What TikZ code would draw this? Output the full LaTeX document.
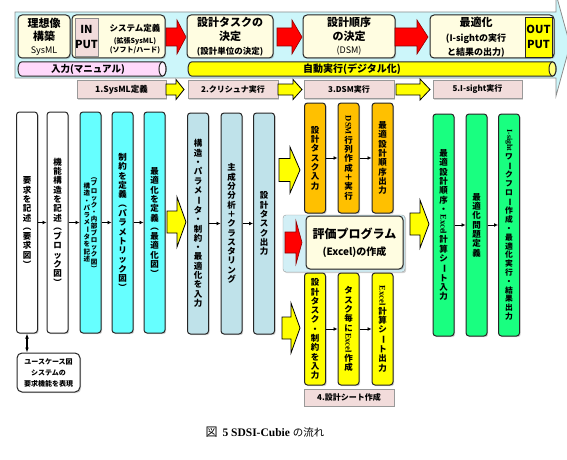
\documentclass[tikz,border=0pt]{standalone}
\usepackage{fontspec}
\setmainfont{Noto Sans CJK JP}
\newfontfamily\latserif{Liberation Serif}
\usepackage{graphicx}
\usetikzlibrary{arrows.meta,positioning,shadows}
\definecolor{banner}{HTML}{CCF6FA}
\definecolor{cream}{HTML}{FFFDE1}
\definecolor{rose}{HTML}{F2DCDB}
\definecolor{lilac}{HTML}{FFD9FB}
\definecolor{aqua}{HTML}{66FFFF}
\definecolor{pale}{HTML}{BFE2EA}
\definecolor{amber}{HTML}{FFC000}
\definecolor{lemon}{HTML}{FFFF00}
\definecolor{mint}{HTML}{19FF80}
\definecolor{evalbg}{HTML}{D2EFF6}
\definecolor{ink}{HTML}{262626}

% vertical (tategaki) text: one character per line
\makeatletter
\newcommand\tate[1]{\vbox{\@tfor\tate@c:=#1\do{\hbox to 1.1em{\hss\tate@c\hss\rule[-.12em]{0pt}{1em}}}}}
\makeatother
\newcommand\yoko[1]{\rotatebox[origin=c]{-90}{#1}}
\newcommand\vlp{\yoko{（}}
\newcommand\vrp{\yoko{）}}
\newcommand\vbar{\yoko{ー}}
\newcommand\lat[1]{\yoko{\latserif\bfseries #1}}

\begin{document}
\begin{tikzpicture}[x=1pt,y=-1pt,
  box/.style={draw=ink,line width=1pt,rounded corners=4pt,fill=cream,inner sep=0pt,align=center},
  col/.style={draw=ink,line width=1pt,rounded corners=3pt,minimum width=21pt,inner sep=0pt,font=\bfseries\fontsize{8.5}{9.3}\selectfont},
  tag/.style={draw=black!40,fill=rose,minimum height=18pt,inner sep=0pt,font=\bfseries\fontsize{8.5}{10}\selectfont},
  arr/.style={-{Latex[length=4pt,width=4pt]},line width=.8pt},
  redarr/.style={fill=red,draw=red!55!black,line width=.6pt},
  yelarr/.style={fill=lemon,draw=black,line width=.8pt},
  dropsh/.style={drop shadow={shadow xshift=1.2pt,shadow yshift=-1.2pt,opacity=.35}},
  pics/blockarrow/.style n args={4}{code={\path[pic actions] (0,-#2) -- ({#1-#4},-#2) -- ({#1-#4},-#3) -- (#1,0) -- ({#1-#4},#3) -- ({#1-#4},#2) -- (0,#2) -- cycle;}}]
\useasboundingbox (0,0) rectangle (567,460);

% top banner
\filldraw[fill=banner,draw=black!45,line width=.8pt] (15,12) -- (556,12) -- (556,-6) -- (570,45) -- (556,96) -- (556,78) -- (15,78) -- cycle;
\node[box,dropsh,minimum width=52pt,minimum height=43pt,font=\bfseries\fontsize{11}{13.5}\selectfont] (ideal) at (44,36.5)
  {理想像\\構築\\[-1pt]\mdseries\fontsize{9}{10}\selectfont SysML};
\node[box,dropsh,minimum width=93pt,minimum height=43pt] (inbox) at (118.5,36.5) {};
\node[draw=black!45,fill=rose,minimum width=23pt,minimum height=38pt,inner sep=0pt,align=center,font=\bfseries\fontsize{11}{15}\selectfont] (inp) at (86.5,37) {IN\\PUT};
\node[align=center,inner sep=0pt,font=\bfseries\fontsize{7}{9}\selectfont] (sysdef) at (135,39)
  {\fontsize{8.5}{10}\selectfont システム定義\\[3pt](拡張SysML)\\(ソフト/ハード)};
\pic[redarr] at (166,37) {blockarrow={20}{9}{17}{9}};
\node[box,dropsh,minimum width=86pt,minimum height=43pt,font=\bfseries\fontsize{11}{14.5}\selectfont] (task) at (230,36.5)
  {設計タスクの\\決定\\[-1pt]\fontsize{8.5}{10}\selectfont(設計単位の決定)};
\pic[redarr] at (277,37) {blockarrow={25}{9}{17}{10}};
\node[box,dropsh,minimum width=92pt,minimum height=43pt,font=\bfseries\fontsize{11}{14}\selectfont] (order) at (349,36.5)
  {設計順序\\の決定\\[-1pt]\mdseries\fontsize{9}{10}\selectfont(DSM)};
\pic[redarr] at (395,37) {blockarrow={33}{9}{17}{11}};
\node[box,dropsh,minimum width=124pt,minimum height=43pt] (opt) at (492,36.5) {};
\node[align=center,inner sep=0pt,font=\bfseries\fontsize{9}{13.5}\selectfont] (opttxt) at (476,37)
  {\fontsize{11}{13}\selectfont 最適化\\[2pt](I-sightの実行\\と結果の出力)};
\node[draw=ink,line width=.8pt,fill=lemon,minimum width=27pt,minimum height=40pt,inner sep=0pt,align=center,font=\bfseries\fontsize{11}{15}\selectfont] (outp) at (538.5,37) {OUT\\PUT};

% manual / automatic bars
\filldraw[fill=lilac,draw=ink,line width=1pt] (162.5,62) -- (21.5,62) arc[start angle=270,end angle=90,x radius=3.5,y radius=7] -- (162.5,76) arc[start angle=90,end angle=-90,x radius=3.5,y radius=7] -- cycle;
\draw[ink,fill=white!60!lilac,line width=1pt] (162.5,69) ellipse[x radius=3.5,y radius=7];
\node[font=\bfseries\fontsize{9.5}{11}\selectfont] (manual) at (88,69) {入力(マニュアル)};
\filldraw[fill=lemon,draw=ink,line width=1pt] (552.5,62) -- (191.5,62) arc[start angle=270,end angle=90,x radius=3.5,y radius=7] -- (552.5,76) arc[start angle=90,end angle=-90,x radius=3.5,y radius=7] -- cycle;
\draw[ink,fill=white!50!lemon,line width=1pt] (552.5,69) ellipse[x radius=3.5,y radius=7];
\node[font=\bfseries\fontsize{10}{11}\selectfont] (auto) at (352,69) {自動実行(デジタル化)};

% step labels
\node[tag,dropsh,minimum width=89pt] (s1) at (121.5,89.5) {1.SysML定義};
\pic[yelarr] at (166,89.5) {blockarrow={18}{5.5}{10}{8}};
\node[tag,dropsh,minimum width=90pt,font=\bfseries\fontsize{8}{10}\selectfont] (s2) at (233,89.5) {2.クリシュナ実行};
\pic[yelarr] at (278,89.5) {blockarrow={24}{5.5}{10}{9}};
\node[tag,dropsh,minimum width=90pt,font=\bfseries\fontsize{8}{10}\selectfont] (s3) at (349,89.5) {3.DSM実行};
\pic[yelarr] at (396,89.5) {blockarrow={34}{5.5}{10.5}{10}};
\node[tag,dropsh,minimum width=89pt,font=\bfseries\fontsize{8}{10}\selectfont] (s5) at (477.5,89.5) {5.I-sight実行};

% SysML columns
\node[col,dropsh,fill=white,minimum height=221pt] (c1) at (27,222.5) {\tate{要求を記述\vlp 要求図\vrp}};
\node[col,dropsh,fill=white,minimum height=221pt] (c2) at (57.5,222.5) {\tate{機能構造を記述\vlp ブロック図\vrp}};
\node[col,dropsh,fill=aqua,minimum height=221pt,font=\bfseries\fontsize{6.5}{7.1}\selectfont] (c3) at (90.5,222.5)
  {$\vcenter{\tate{構造・パラメ\vbar タを記述}}\vcenter{\tate{\vlp ブロック・内部ブロック図\vrp}}$};
\node[col,dropsh,fill=aqua,minimum height=221pt] (c4) at (122.5,222.5) {\tate{制約を定義\vlp パラメトリック図\vrp}};
\node[col,dropsh,fill=aqua,minimum height=221pt] (c5) at (154.5,222.5) {\tate{最適化を定義\vlp 最適化図\vrp}};
\draw[arr] (c1) -- (c2);
\draw[arr] (c2) -- (c3);
\draw[arr] (c3) -- (c4);
\draw[arr] (c4) -- (c5);
\node[box,dropsh,fill=white,rounded corners=5pt,minimum width=63pt,minimum height=39pt,font=\bfseries\fontsize{7}{11}\selectfont] (uc) at (48.5,372.5)
  {ユースケース図\\システムの\\要求機能を表現};
\draw[{Latex[length=5pt]}-{Latex[length=5pt]},line width=1.5pt] (c1.south) -- (c1.south |- uc.north);

\pic[yelarr] at (167,222) {blockarrow={19}{11}{25}{9}};

% clustering columns
\node[col,dropsh,fill=pale,minimum height=221pt] (c6) at (198,223.5) {\tate{構造・パラメ\vbar タ・制約・最適化を入力}};
\node[col,dropsh,fill=pale,minimum height=221pt] (c7) at (231.5,223.5) {\tate{主成分分析＋クラスタリング}};
\node[col,dropsh,fill=pale,minimum height=221pt] (c8) at (264,223.5) {\tate{設計タスク出力}};
\draw[arr] (c6) -- (c7);
\draw[arr] (c7) -- (c8);

% DSM columns
\pic[yelarr] at (279,170) {blockarrow={21}{11.5}{23}{10}};
\node[col,dropsh,fill=amber,minimum height=110pt] (c9) at (315,158) {\tate{設計タスク入力}};
\node[col,dropsh,fill=amber,minimum height=110pt] (c10) at (348.5,158) {\tate{{\lat{DSM}}行列作成＋実行}};
\node[col,dropsh,fill=amber,minimum height=110pt] (c11) at (382.5,158) {\tate{最適設計順序出力}};
\draw[arr] (c9) -- (c10);
\draw[arr] (c10) -- (c11);

% evaluation program
\node[draw=black!40,fill=evalbg,rounded corners=3pt,dropsh,minimum width=122pt,minimum height=57pt] (evo) at (344,243.5) {};
\node[box,dropsh,minimum width=97pt,minimum height=53pt,font=\bfseries\fontsize{12}{17}\selectfont] (evi) at (354.5,242.5)
  {評価プログラム\\\fontsize{10}{12}\selectfont(Excel)の作成};
\pic[redarr] at (285,242.5) {blockarrow={17}{10.5}{21.5}{6}};

% sheet columns
\pic[yelarr] at (282,328) {blockarrow={18}{11}{25}{9}};
\node[col,dropsh,fill=lemon,minimum height=112pt] (c12) at (315,329) {\tate{設計タスク・制約を入力}};
\node[col,dropsh,fill=lemon,minimum height=112pt] (c13) at (348.5,329) {\tate{タスク毎に{\lat{Excel}}作成}};
\node[col,dropsh,fill=lemon,minimum height=112pt] (c14) at (382.5,329) {\tate{{\lat{Excel}}計算シ\vbar ト出力}};
\draw[arr] (c12) -- (c13);
\draw[arr] (c13) -- (c14);
\node[tag,dropsh,minimum width=90pt,minimum height=17pt,font=\bfseries\fontsize{8}{10}\selectfont] (s4) at (349,397.5) {4.設計シート作成};

% I-sight columns
\pic[yelarr] at (410,224) {blockarrow={19}{11}{24}{9}};
\node[col,dropsh,fill=mint,minimum height=222pt] (c15) at (443.5,225) {\tate{最適設計順序・{\lat{Excel}}計算シ\vbar ト入力}};
\node[col,dropsh,fill=mint,minimum height=222pt] (c16) at (476.5,225) {\tate{最適化問題定義}};
\node[col,dropsh,fill=mint,minimum height=222pt,font=\bfseries\fontsize{7.8}{8.8}\selectfont] (c17) at (509,225)
  {\tate{{\lat{I-sight}}ワ\vbar クフロ\vbar 作成・最適化実行・結果出力}};
\draw[arr] (c15) -- (c16);
\draw[arr] (c16) -- (c17);

% caption
\node[inner sep=0pt] (cap) at (265,432) {\fontsize{12}{14}\selectfont 図\hspace{5pt}{\latserif\bfseries\fontsize{11.5}{14}\selectfont 5 SDSI-Cubie}\hspace{3pt}\fontsize{10.5}{14}\selectfont の流れ};
\end{tikzpicture}
\end{document}
